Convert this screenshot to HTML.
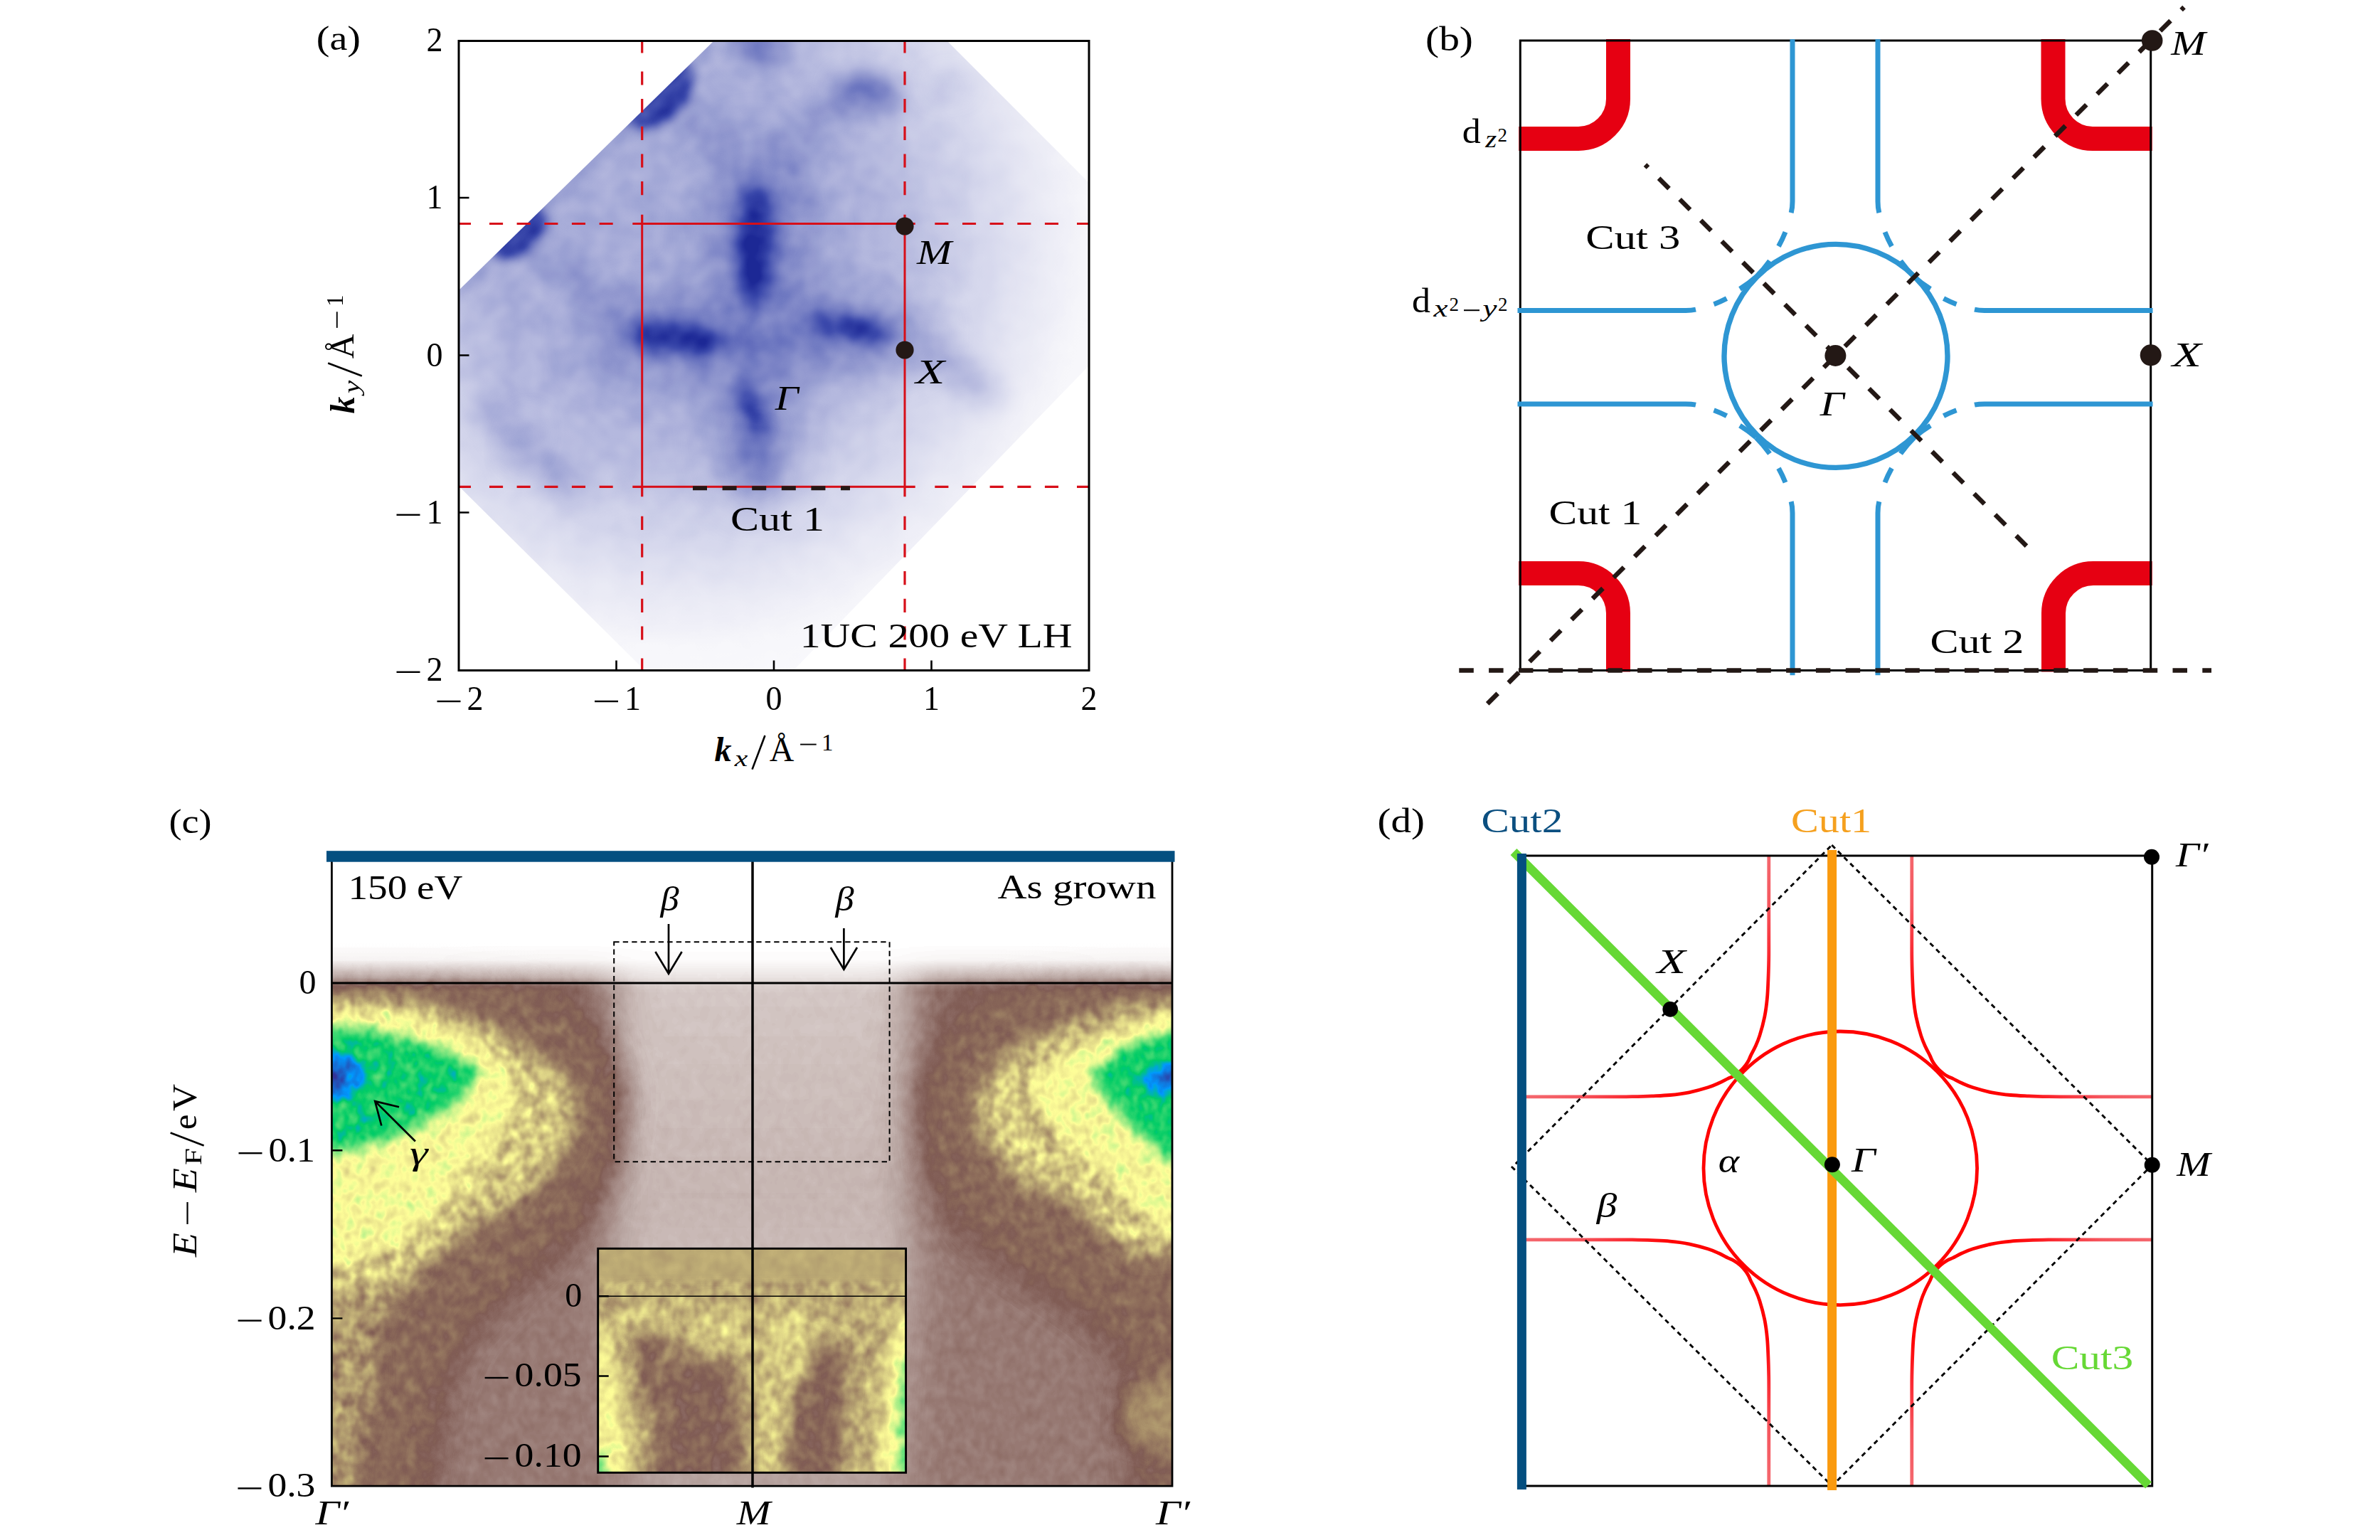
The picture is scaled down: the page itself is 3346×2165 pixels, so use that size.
<!DOCTYPE html>
<html><head><meta charset="utf-8"><title>figure</title>
<style>
html,body{margin:0;padding:0;background:#fff;}
svg{display:block;}
text{font-family:"Liberation Serif",serif;}
</style></head><body>
<svg width="3346" height="2165" viewBox="0 0 3346 2165">
<defs>
<filter id="ba5" filterUnits="userSpaceOnUse" x="540" y="-40" width="1100" height="1090" color-interpolation-filters="sRGB"><feGaussianBlur stdDeviation="5"/></filter>
<filter id="ba8" filterUnits="userSpaceOnUse" x="540" y="-40" width="1100" height="1090" color-interpolation-filters="sRGB"><feGaussianBlur stdDeviation="8"/></filter>
<filter id="ba12" filterUnits="userSpaceOnUse" x="540" y="-40" width="1100" height="1090" color-interpolation-filters="sRGB"><feGaussianBlur stdDeviation="12"/></filter>
<filter id="ba18" filterUnits="userSpaceOnUse" x="540" y="-40" width="1100" height="1090" color-interpolation-filters="sRGB"><feGaussianBlur stdDeviation="18"/></filter>
<filter id="ba25" filterUnits="userSpaceOnUse" x="540" y="-40" width="1100" height="1090" color-interpolation-filters="sRGB"><feGaussianBlur stdDeviation="25"/></filter>
<filter id="ba35" filterUnits="userSpaceOnUse" x="540" y="-40" width="1100" height="1090" color-interpolation-filters="sRGB"><feGaussianBlur stdDeviation="35"/></filter>
<filter id="cmapA" filterUnits="userSpaceOnUse" x="600" y="10" width="980" height="980" color-interpolation-filters="sRGB">
<feTurbulence type="fractalNoise" baseFrequency="0.03 0.03" numOctaves="2" seed="11" result="n0"/>
<feColorMatrix in="n0" type="matrix" values="1 0 0 0 0  1 0 0 0 0  1 0 0 0 0  0 0 0 0 1" result="n1"/>
<feComposite in="SourceGraphic" in2="n1" operator="arithmetic" k1="0.3" k2="0.85" k3="0" k4="0" result="m"/>
<feComponentTransfer in="m"><feFuncR type="table" tableValues="1.000 0.983 0.967 0.950 0.933 0.916 0.899 0.882 0.865 0.848 0.831 0.810 0.790 0.769 0.748 0.727 0.706 0.682 0.658 0.633 0.609 0.585 0.561 0.535 0.508 0.482 0.456 0.430 0.404 0.376 0.348 0.320 0.292 0.263 0.235 0.214 0.193 0.173 0.152 0.131 0.110"/><feFuncG type="table" tableValues="1.000 0.983 0.967 0.950 0.933 0.918 0.902 0.886 0.871 0.855 0.839 0.820 0.800 0.780 0.761 0.741 0.722 0.699 0.677 0.655 0.633 0.610 0.588 0.564 0.540 0.516 0.492 0.467 0.443 0.418 0.392 0.367 0.341 0.316 0.290 0.268 0.246 0.224 0.201 0.179 0.157"/><feFuncB type="table" tableValues="1.000 0.992 0.984 0.976 0.969 0.961 0.954 0.947 0.940 0.933 0.925 0.916 0.907 0.898 0.889 0.880 0.871 0.860 0.850 0.839 0.829 0.818 0.808 0.797 0.787 0.776 0.766 0.756 0.745 0.733 0.722 0.710 0.698 0.686 0.675 0.660 0.646 0.631 0.617 0.603 0.588"/></feComponentTransfer>
</filter>
<clipPath id="clipA"><path d="M645,408 L1003,58 L1332,58 L1531,257 L1531,514 L1116,942 L906,942 L645,683.5 Z"/></clipPath>
<radialGradient id="baseA" gradientUnits="userSpaceOnUse" cx="950" cy="330" r="680"><stop offset="0" stop-color="rgb(117,117,117)"/><stop offset="0.37" stop-color="rgb(112,112,112)"/><stop offset="0.47" stop-color="rgb(97,97,97)"/><stop offset="0.66" stop-color="rgb(56,56,56)"/><stop offset="0.735" stop-color="rgb(36,36,36)"/><stop offset="0.85" stop-color="rgb(13,13,13)"/><stop offset="1" stop-color="rgb(4,4,4)"/></radialGradient>
<filter id="bl6" filterUnits="userSpaceOnUse" x="300" y="1100" width="1520" height="1100" color-interpolation-filters="sRGB"><feGaussianBlur stdDeviation="6"/></filter>
<filter id="bl10" filterUnits="userSpaceOnUse" x="300" y="1100" width="1520" height="1100" color-interpolation-filters="sRGB"><feGaussianBlur stdDeviation="10"/></filter>
<filter id="bl14" filterUnits="userSpaceOnUse" x="300" y="1100" width="1520" height="1100" color-interpolation-filters="sRGB"><feGaussianBlur stdDeviation="14"/></filter>
<filter id="bl20" filterUnits="userSpaceOnUse" x="300" y="1100" width="1520" height="1100" color-interpolation-filters="sRGB"><feGaussianBlur stdDeviation="20"/></filter>
<filter id="bl30" filterUnits="userSpaceOnUse" x="300" y="1100" width="1520" height="1100" color-interpolation-filters="sRGB"><feGaussianBlur stdDeviation="30"/></filter>
<filter id="bl45" filterUnits="userSpaceOnUse" x="300" y="1100" width="1520" height="1100" color-interpolation-filters="sRGB"><feGaussianBlur stdDeviation="45"/></filter>
<filter id="spTan" filterUnits="userSpaceOnUse" x="300" y="1100" width="1520" height="1100" color-interpolation-filters="sRGB"><feGaussianBlur in="SourceAlpha" stdDeviation="12" result="a"/><feTurbulence type="fractalNoise" baseFrequency="0.06 0.05" numOctaves="2" seed="5" result="t"/><feColorMatrix in="t" type="matrix" values="0.26 0 0 0 0.285  0.26 0 0 0 0.285  0.26 0 0 0 0.285  0 0 0 0 1" result="tg"/><feComposite in="tg" in2="a" operator="in"/></filter>
<filter id="spYel" filterUnits="userSpaceOnUse" x="300" y="1100" width="1520" height="1100" color-interpolation-filters="sRGB"><feGaussianBlur in="SourceAlpha" stdDeviation="9" result="a"/><feTurbulence type="fractalNoise" baseFrequency="0.06 0.05" numOctaves="2" seed="5" result="t"/><feColorMatrix in="t" type="matrix" values="0.13 0 0 0 0.430  0.13 0 0 0 0.430  0.13 0 0 0 0.430  0 0 0 0 1" result="tg"/><feComposite in="tg" in2="a" operator="in"/></filter>
<filter id="spGrn" filterUnits="userSpaceOnUse" x="300" y="1100" width="1520" height="1100" color-interpolation-filters="sRGB"><feGaussianBlur in="SourceAlpha" stdDeviation="9" result="a"/><feTurbulence type="fractalNoise" baseFrequency="0.06 0.05" numOctaves="2" seed="5" result="t"/><feColorMatrix in="t" type="matrix" values="0.1 0 0 0 0.685  0.1 0 0 0 0.685  0.1 0 0 0 0.685  0 0 0 0 1" result="tg"/><feComposite in="tg" in2="a" operator="in"/></filter>
<filter id="spRing" filterUnits="userSpaceOnUse" x="300" y="1100" width="1520" height="1100" color-interpolation-filters="sRGB"><feGaussianBlur in="SourceAlpha" stdDeviation="20" result="a"/><feTurbulence type="fractalNoise" baseFrequency="0.06 0.05" numOctaves="2" seed="5" result="t"/><feColorMatrix in="t" type="matrix" values="0.06 0 0 0 0.242  0.06 0 0 0 0.242  0.06 0 0 0 0.242  0 0 0 0 1" result="tg"/><feComposite in="tg" in2="a" operator="in"/></filter>
<filter id="spLow" filterUnits="userSpaceOnUse" x="300" y="1100" width="1520" height="1100" color-interpolation-filters="sRGB"><feGaussianBlur in="SourceAlpha" stdDeviation="12" result="a"/><feTurbulence type="fractalNoise" baseFrequency="0.06 0.05" numOctaves="2" seed="5" result="t"/><feColorMatrix in="t" type="matrix" values="0.23 0 0 0 0.230  0.23 0 0 0 0.230  0.23 0 0 0 0.230  0 0 0 0 1" result="tg"/><feComposite in="tg" in2="a" operator="in"/></filter>
<filter id="spI1" filterUnits="userSpaceOnUse" x="300" y="1100" width="1520" height="1100" color-interpolation-filters="sRGB"><feGaussianBlur in="SourceAlpha" stdDeviation="3" result="a"/><feTurbulence type="fractalNoise" baseFrequency="0.06 0.05" numOctaves="2" seed="9" result="t"/><feColorMatrix in="t" type="matrix" values="0.2 0 0 0 0.270  0.2 0 0 0 0.270  0.2 0 0 0 0.270  0 0 0 0 1" result="tg"/><feComposite in="tg" in2="a" operator="in"/></filter>
<filter id="spI2" filterUnits="userSpaceOnUse" x="300" y="1100" width="1520" height="1100" color-interpolation-filters="sRGB"><feGaussianBlur in="SourceAlpha" stdDeviation="12" result="a"/><feTurbulence type="fractalNoise" baseFrequency="0.06 0.05" numOctaves="2" seed="9" result="t"/><feColorMatrix in="t" type="matrix" values="0.16 0 0 0 0.410  0.16 0 0 0 0.410  0.16 0 0 0 0.410  0 0 0 0 1" result="tg"/><feComposite in="tg" in2="a" operator="in"/></filter>
<filter id="spI3" filterUnits="userSpaceOnUse" x="300" y="1100" width="1520" height="1100" color-interpolation-filters="sRGB"><feGaussianBlur in="SourceAlpha" stdDeviation="12" result="a"/><feTurbulence type="fractalNoise" baseFrequency="0.06 0.05" numOctaves="2" seed="9" result="t"/><feColorMatrix in="t" type="matrix" values="0.1 0 0 0 0.210  0.1 0 0 0 0.210  0.1 0 0 0 0.210  0 0 0 0 1" result="tg"/><feComposite in="tg" in2="a" operator="in"/></filter>
<filter id="spI4" filterUnits="userSpaceOnUse" x="300" y="1100" width="1520" height="1100" color-interpolation-filters="sRGB"><feGaussianBlur in="SourceAlpha" stdDeviation="14" result="a"/><feTurbulence type="fractalNoise" baseFrequency="0.06 0.05" numOctaves="2" seed="9" result="t"/><feColorMatrix in="t" type="matrix" values="0.2 0 0 0 0.330  0.2 0 0 0 0.330  0.2 0 0 0 0.330  0 0 0 0 1" result="tg"/><feComposite in="tg" in2="a" operator="in"/></filter>
<filter id="spI5" filterUnits="userSpaceOnUse" x="300" y="1100" width="1520" height="1100" color-interpolation-filters="sRGB"><feGaussianBlur in="SourceAlpha" stdDeviation="10" result="a"/><feTurbulence type="fractalNoise" baseFrequency="0.06 0.05" numOctaves="2" seed="9" result="t"/><feColorMatrix in="t" type="matrix" values="0.2 0 0 0 0.560  0.2 0 0 0 0.560  0.2 0 0 0 0.560  0 0 0 0 1" result="tg"/><feComposite in="tg" in2="a" operator="in"/></filter>
<filter id="cmapC" filterUnits="userSpaceOnUse" x="420" y="1160" width="1280" height="980" color-interpolation-filters="sRGB">
<feTurbulence type="fractalNoise" baseFrequency="0.07 0.055" numOctaves="2" seed="7" result="n0"/>
<feColorMatrix in="n0" type="matrix" values="1 0 0 0 0  1 0 0 0 0  1 0 0 0 0  0 0 0 0 1" result="n1"/>
<feComposite in="SourceGraphic" in2="n1" operator="arithmetic" k1="0.24" k2="0.88" k3="0" k4="0" result="m"/>
<feComponentTransfer in="m"><feFuncR type="table" tableValues="1.000 0.950 0.900 0.850 0.800 0.750 0.700 0.650 0.600 0.550 0.500 0.550 0.600 0.650 0.700 0.750 0.800 0.850 0.900 0.950 1.000 0.900 0.800 0.700 0.600 0.500 0.400 0.300 0.200 0.100 0.000 0.000 0.000 0.000 0.000 0.033 0.067 0.100 0.133 0.167 0.200"/><feFuncG type="table" tableValues="1.000 0.936 0.872 0.808 0.744 0.680 0.616 0.552 0.488 0.424 0.360 0.424 0.488 0.552 0.616 0.680 0.744 0.808 0.872 0.936 1.000 0.980 0.960 0.940 0.920 0.900 0.880 0.860 0.840 0.820 0.800 0.750 0.700 0.650 0.600 0.533 0.467 0.400 0.333 0.267 0.200"/><feFuncB type="table" tableValues="1.000 0.933 0.866 0.799 0.732 0.665 0.598 0.531 0.464 0.397 0.330 0.357 0.384 0.411 0.438 0.465 0.492 0.519 0.546 0.573 0.600 0.580 0.560 0.540 0.520 0.500 0.480 0.460 0.440 0.420 0.400 0.550 0.700 0.850 1.000 0.933 0.867 0.800 0.733 0.667 0.600"/></feComponentTransfer>
</filter>
<clipPath id="clipC"><rect x="466" y="1211" width="1183" height="878"/></clipPath>
<linearGradient id="fermi" gradientUnits="userSpaceOnUse" x1="0" y1="1325" x2="0" y2="1395"><stop offset="0" stop-color="#000" stop-opacity="1"/><stop offset="0.35" stop-color="#000" stop-opacity="0.93"/><stop offset="0.7" stop-color="#000" stop-opacity="0.5"/><stop offset="0.88" stop-color="#000" stop-opacity="0.08"/><stop offset="1" stop-color="#000" stop-opacity="0"/></linearGradient>
<linearGradient id="cband" gradientUnits="userSpaceOnUse" x1="0" y1="1380" x2="0" y2="2090"><stop offset="0" stop-color="#000" stop-opacity="0.64"/><stop offset="0.5" stop-color="#000" stop-opacity="0.5"/><stop offset="1" stop-color="#000" stop-opacity="0.3"/></linearGradient>
<clipPath id="clipI"><rect x="840.7" y="1755.3" width="432.89999999999986" height="315.0000000000002"/></clipPath>
<filter id="cmapI" filterUnits="userSpaceOnUse" x="800" y="1720" width="520" height="400" color-interpolation-filters="sRGB">
<feTurbulence type="fractalNoise" baseFrequency="0.05 0.045" numOctaves="2" seed="3" result="n0"/>
<feColorMatrix in="n0" type="matrix" values="1 0 0 0 0  1 0 0 0 0  1 0 0 0 0  0 0 0 0 1" result="n1"/>
<feComposite in="SourceGraphic" in2="n1" operator="arithmetic" k1="0.16" k2="0.92" k3="0" k4="0" result="m"/>
<feComponentTransfer in="m"><feFuncR type="table" tableValues="1.000 0.950 0.900 0.850 0.800 0.750 0.700 0.650 0.600 0.550 0.500 0.550 0.600 0.650 0.700 0.750 0.800 0.850 0.900 0.950 1.000 0.900 0.800 0.700 0.600 0.500 0.400 0.300 0.200 0.100 0.000 0.000 0.000 0.000 0.000 0.033 0.067 0.100 0.133 0.167 0.200"/><feFuncG type="table" tableValues="1.000 0.936 0.872 0.808 0.744 0.680 0.616 0.552 0.488 0.424 0.360 0.424 0.488 0.552 0.616 0.680 0.744 0.808 0.872 0.936 1.000 0.980 0.960 0.940 0.920 0.900 0.880 0.860 0.840 0.820 0.800 0.750 0.700 0.650 0.600 0.533 0.467 0.400 0.333 0.267 0.200"/><feFuncB type="table" tableValues="1.000 0.933 0.866 0.799 0.732 0.665 0.598 0.531 0.464 0.397 0.330 0.357 0.384 0.411 0.438 0.465 0.492 0.519 0.546 0.573 0.600 0.580 0.560 0.540 0.520 0.500 0.480 0.460 0.440 0.420 0.400 0.550 0.700 0.850 1.000 0.933 0.867 0.800 0.733 0.667 0.600"/></feComponentTransfer>
</filter>
<radialGradient id="rg" gradientUnits="userSpaceOnUse" cx="2587.3" cy="1642.3" r="460"><stop offset="0" stop-color="#FF0000"/><stop offset="0.56" stop-color="#FF0000"/><stop offset="0.69" stop-color="#FA2A32"/><stop offset="0.83" stop-color="#F5565E"/><stop offset="1" stop-color="#F4696F"/></radialGradient>
<radialGradient id="rg0" gradientUnits="userSpaceOnUse" cx="0" cy="0" r="460"><stop offset="0" stop-color="#FF0000"/><stop offset="0.56" stop-color="#FF0000"/><stop offset="0.69" stop-color="#FA2A32"/><stop offset="0.83" stop-color="#F5565E"/><stop offset="1" stop-color="#F4696F"/></radialGradient>
</defs>
<rect width="3346" height="2165" fill="#fff"/>
<g clip-path="url(#clipA)"><g filter="url(#cmapA)"><rect x="560" y="0" width="1060" height="1030" fill="url(#baseA)"/><g filter="url(#ba35)" fill="rgb(173,173,173)" opacity="0.92"><ellipse cx="1066" cy="340" rx="64" ry="145"/><ellipse cx="950" cy="476" rx="125" ry="48"/><ellipse cx="1200" cy="468" rx="105" ry="45"/><ellipse cx="1062" cy="610" rx="45" ry="95"/><ellipse cx="1070" cy="470" rx="85" ry="75"/></g><g filter="url(#ba18)" stroke="rgb(158,158,158)" stroke-width="40" fill="none" opacity="0.6"><path d="M945,140 L1050,235"/><path d="M1195,140 L1110,210 L1105,330"/><path d="M745,345 L900,455"/><path d="M690,560 Q730,640 820,690"/><path d="M1290,480 L1400,560"/></g><g filter="url(#ba8)" fill="rgb(255,255,255)"><ellipse cx="926" cy="132" rx="58" ry="36" transform="rotate(-44.5 926 132)"/><ellipse cx="729" cy="326" rx="46" ry="27" transform="rotate(-44.5 729 326)"/></g><g filter="url(#ba8)" stroke="rgb(153,153,153)" stroke-width="14" fill="none" opacity="0.6"><path d="M645,412 L1003,62"/></g><g filter="url(#ba18)" fill="rgb(199,199,199)"><ellipse cx="1220" cy="132" rx="46" ry="22" transform="rotate(8 1220 132)"/><ellipse cx="1068" cy="62" rx="36" ry="22"/></g><g filter="url(#ba18)" fill="rgb(115,115,115)" opacity="0.7"><ellipse cx="1336" cy="120" rx="28" ry="14"/><ellipse cx="735" cy="620" rx="16" ry="40" transform="rotate(20 735 620)"/></g><g filter="url(#ba12)" fill="rgb(255,255,255)"><ellipse cx="1062" cy="345" rx="23" ry="88"/><ellipse cx="950" cy="475" rx="72" ry="19" transform="rotate(5 950 475)"/><ellipse cx="1198" cy="464" rx="62" ry="15" transform="rotate(12 1198 464)"/><ellipse cx="1057" cy="582" rx="13" ry="42" transform="rotate(-14 1057 582)"/></g><g filter="url(#ba18)" fill="rgb(184,184,184)" opacity="0.85"><ellipse cx="1064" cy="645" rx="17" ry="45"/></g></g></g>
<g id="pa"><g stroke="#D70F19" fill="none" stroke-width="3.2"><path d="M902.7,57.5 V314.5 M902.7,942.5 V684.3 M1272.0,57.5 V314.5 M1272.0,942.5 V684.3 M645.0,314.5 H902.7 M1531.0,314.5 H1272.0 M645.0,684.3 H902.7 M1531.0,684.3 H1272.0" stroke-dasharray="17 26 19.1 19.5 19.1 19.6 19.1 19.5 19.1 19.6 19.1 27.6 40"/><rect x="902.7" y="314.5" width="369.29999999999995" height="369.79999999999995" stroke-width="3"/></g><path d="M974,686.3 H1195" stroke="#231815" stroke-width="6" stroke-dasharray="20 21.6" fill="none"/><g stroke="#000" fill="none"><rect x="645.0" y="57.5" width="886.0" height="885.0" stroke-width="3"/><path d="M645.0,278 h14.5 M645.0,499.5 h14.5 M645.0,720.5 h14.5 M866.5,942.5 v-14 M1088,942.5 v-14 M1309.5,942.5 v-14" stroke-width="2.6"/></g><g fill="#231815"><circle cx="1272" cy="318" r="12.6"/><circle cx="1272" cy="492" r="12.6"/></g><text x="599.5" y="72.3" font-size="48" textLength="23" lengthAdjust="spacingAndGlyphs" >2</text><text x="599.5" y="293.3" font-size="48" textLength="23" lengthAdjust="spacingAndGlyphs" >1</text><text x="599.5" y="514.8" font-size="48" textLength="23" lengthAdjust="spacingAndGlyphs" >0</text><text x="599.5" y="735.8" font-size="48" textLength="23" lengthAdjust="spacingAndGlyphs" >1</text><rect x="557.5" y="722.6" width="33" height="2.4" fill="#000"/><text x="599.5" y="956.8" font-size="48" textLength="23" lengthAdjust="spacingAndGlyphs" >2</text><rect x="557.5" y="943.6" width="33" height="2.4" fill="#000"/><text x="656.5" y="998" font-size="48" textLength="23" lengthAdjust="spacingAndGlyphs" >2</text><rect x="614.5" y="984.8" width="33" height="2.4" fill="#000"/><text x="878.0" y="998" font-size="48" textLength="23" lengthAdjust="spacingAndGlyphs" >1</text><rect x="836.0" y="984.8" width="33" height="2.4" fill="#000"/><text x="1076.5" y="998" font-size="48" textLength="23" lengthAdjust="spacingAndGlyphs" >0</text><text x="1298.0" y="998" font-size="48" textLength="23" lengthAdjust="spacingAndGlyphs" >1</text><text x="1519.5" y="998" font-size="48" textLength="23" lengthAdjust="spacingAndGlyphs" >2</text><text x="444.7" y="69.9" font-size="48" textLength="62.3" lengthAdjust="spacingAndGlyphs" >(a)</text><text x="1288.9" y="371" font-size="48" font-style="italic" textLength="49.0" lengthAdjust="spacingAndGlyphs" >M</text><text x="1287.2" y="538.7" font-size="48" font-style="italic" textLength="41.0" lengthAdjust="spacingAndGlyphs" >X</text><text x="1089.7" y="575.8" font-size="48" font-style="italic" textLength="32.9" lengthAdjust="spacingAndGlyphs" >Γ</text><text x="1027" y="745.7" font-size="48" textLength="132" lengthAdjust="spacingAndGlyphs" >Cut 1</text><text x="1124.7" y="910" font-size="48" textLength="382.9" lengthAdjust="spacingAndGlyphs" >1UC 200 eV LH</text><g transform="translate(1004.5,1070.4)"><text x="0" y="0" font-size="48" font-style="italic" font-weight="bold">k</text><text x="28.2" y="7" font-size="31" font-style="italic" textLength="18.5" lengthAdjust="spacingAndGlyphs">x</text><path d="M53,11.2 L71,-36.4" stroke="#000" stroke-width="2.6" fill="none"/><text x="77.2" y="-0.4" font-size="48" textLength="34.6" lengthAdjust="spacingAndGlyphs">Å</text><rect x="120.6" y="-24.8" width="22.6" height="1.9" fill="#000"/><text x="150.5" y="-15.3" font-size="33">1</text></g><g transform="translate(497.6,581.5) rotate(-90)"><text x="0" y="0" font-size="48" font-style="italic" font-weight="bold">k</text><text x="28.2" y="7" font-size="31" font-style="italic" textLength="18.5" lengthAdjust="spacingAndGlyphs">y</text><path d="M53,11.2 L71,-36.4" stroke="#000" stroke-width="2.6" fill="none"/><text x="77.2" y="-0.4" font-size="48" textLength="34.6" lengthAdjust="spacingAndGlyphs">Å</text><rect x="120.6" y="-24.8" width="22.6" height="1.9" fill="#000"/><text x="150.5" y="-15.3" font-size="33">1</text></g></g>
<g id="pb"><g fill="none" stroke="#E60012" stroke-width="34"><path d="M2135.3,195 H2219 A56 56 0 0 0 2275,139 V55.0"/><path d="M3025.7,195 H2942 A56 56 0 0 1 2886.5,139 V55.0"/><path d="M2135.3,806 H2219 A56 56 0 0 1 2275,862 V944.5"/><path d="M3025.7,806 H2943 A56 56 0 0 0 2887,862 V944.5"/></g><rect x="2137.3" y="57.0" width="886.3999999999996" height="885.5" fill="none" stroke="#000" stroke-width="3"/><g fill="none" stroke="#2E96D3" stroke-width="7"><g transform="translate(2580.0,502.2) scale(1,1)"><path d="M-60,-447 V-219 Q-60,-210 -61.8,-203"/><path d="M-70,-176 Q-74,-166 -79.5,-156"/><path d="M-92,-135.5 Q-101,-123 -111,-113"/><path d="M-111,-113 Q-121,-104 -134,-96"/><path d="M-152.5,-82.5 Q-161,-78 -170.5,-74.5"/><path d="M-446.5,-65.7 H-210 Q-202,-65.7 -196,-67"/></g><g transform="translate(2580.0,502.2) scale(-1,1)"><path d="M-60,-447 V-219 Q-60,-210 -61.8,-203"/><path d="M-70,-176 Q-74,-166 -79.5,-156"/><path d="M-92,-135.5 Q-101,-123 -111,-113"/><path d="M-111,-113 Q-121,-104 -134,-96"/><path d="M-152.5,-82.5 Q-161,-78 -170.5,-74.5"/><path d="M-446.5,-65.7 H-210 Q-202,-65.7 -196,-67"/></g><g transform="translate(2580.0,502.2) scale(1,-1)"><path d="M-60,-447 V-219 Q-60,-210 -61.8,-203"/><path d="M-70,-176 Q-74,-166 -79.5,-156"/><path d="M-92,-135.5 Q-101,-123 -111,-113"/><path d="M-111,-113 Q-121,-104 -134,-96"/><path d="M-152.5,-82.5 Q-161,-78 -170.5,-74.5"/><path d="M-446.5,-65.7 H-210 Q-202,-65.7 -196,-67"/></g><g transform="translate(2580.0,502.2) scale(-1,-1)"><path d="M-60,-447 V-219 Q-60,-210 -61.8,-203"/><path d="M-70,-176 Q-74,-166 -79.5,-156"/><path d="M-92,-135.5 Q-101,-123 -111,-113"/><path d="M-111,-113 Q-121,-104 -134,-96"/><path d="M-152.5,-82.5 Q-161,-78 -170.5,-74.5"/><path d="M-446.5,-65.7 H-210 Q-202,-65.7 -196,-67"/></g><circle cx="2581" cy="500.4" r="157" stroke-width="7.4"/></g><g fill="none" stroke="#231815" stroke-width="6.5" stroke-dasharray="20.5 21.3"><path d="M2051.3,942.5 H3109"/><path d="M2091.2,989.4 L3070.5,10.1"/><path d="M2849,767.6 L2313,231.6"/></g><g fill="#231815"><circle cx="2580.4" cy="500" r="15"/><circle cx="3025.7" cy="57" r="14.8"/><circle cx="3023.7" cy="499.3" r="15"/></g><text x="2004" y="70.9" font-size="48" textLength="67" lengthAdjust="spacingAndGlyphs" >(b)</text><text x="2229.3" y="350.2" font-size="48" textLength="132.9" lengthAdjust="spacingAndGlyphs" >Cut 3</text><text x="2177.5" y="736.8" font-size="48" textLength="130.7" lengthAdjust="spacingAndGlyphs" >Cut 1</text><text x="2713.4" y="917.6" font-size="48" textLength="132.0" lengthAdjust="spacingAndGlyphs" >Cut 2</text><text x="3052.3" y="76.8" font-size="48" font-style="italic" textLength="48.7" lengthAdjust="spacingAndGlyphs" >M</text><text x="3053.8" y="514.7" font-size="48" font-style="italic" textLength="41.2" lengthAdjust="spacingAndGlyphs" >X</text><text x="2558.8" y="583.6" font-size="48" font-style="italic" textLength="34.0" lengthAdjust="spacingAndGlyphs" >Γ</text><text x="2055.8" y="201" font-size="48" textLength="26" lengthAdjust="spacingAndGlyphs" >d</text><text x="2088.3" y="207" font-size="34" font-style="italic" textLength="16" lengthAdjust="spacingAndGlyphs" >z</text><text x="2105.5" y="198.6" font-size="27" >2</text><text x="1984.9" y="439.4" font-size="48" textLength="26" lengthAdjust="spacingAndGlyphs" >d</text><text x="2015.6" y="445" font-size="34" font-style="italic" textLength="20" lengthAdjust="spacingAndGlyphs" >x</text><text x="2037.5" y="437" font-size="27" >2</text><rect x="2058" y="435.2" width="22" height="2" fill="#000"/><text x="2084.5" y="445" font-size="34" font-style="italic" textLength="20" lengthAdjust="spacingAndGlyphs" >y</text><text x="2106" y="437" font-size="27" >2</text></g>
<g clip-path="url(#clipC)"><g filter="url(#cmapC)"><rect x="400" y="1150" width="1320" height="1000" fill="rgb(61,61,61)"/><g filter="url(#bl30)"><path d="M862,1300 L1280,1300 L1285,1760 L1260,2200 L890,2200 L858,1760 Z" fill="url(#cband)"/><path d="M852,1720 L1290,1720 L1420,1800 L1560,1900 L1600,2200 L600,2200 L640,1900 L760,1800 Z" fill="#000" opacity="0.14"/></g><g filter="url(#spRing)" fill="#fff"><path d="M360,1340 L600,1340 L740,1370 L840,1440 L880,1530 L868,1640 L810,1730 L730,1800 L660,1870 L620,1960 L605,2060 L590,2200 L360,2200 Z"/><path d="M1760,1340 L1560,1340 L1430,1370 L1335,1440 L1290,1530 L1302,1640 L1362,1730 L1440,1790 L1530,1850 L1585,1900 L1600,2000 L1610,2200 L1760,2200 Z"/></g><g filter="url(#spLow)" fill="#fff"><path d="M360,1780 L590,1780 L552,1826 L527,1878 L528,1950 L502,2026 L488,2200 L360,2200 Z"/></g><g filter="url(#spTan)" fill="#fff"><path d="M360,1396 L588,1406 L680,1440 L752,1480 L812,1537 L800,1612 L742,1680 L660,1728 L600,1776 L565,1812 L360,1820 Z"/><path d="M1760,1404 L1647,1406 L1583,1416 L1500,1441 L1416,1480 L1372,1537 L1376,1594 L1440,1668 L1496,1682 L1562,1740 L1602,1768 L1647,1762 L1760,1762 Z"/></g><g filter="url(#bl14)" fill="rgb(84,84,84)"><path d="M1760,1925 L1640,1930 L1580,1960 L1575,2020 L1640,2040 L1760,2040 Z"/></g><g filter="url(#spYel)" fill="#fff"><path d="M360,1414 L560,1422 L655,1452 L706,1492 L726,1537 L706,1594 L652,1655 L620,1704 L570,1742 L515,1764 L470,1784 L360,1790 Z"/><path d="M1760,1424 L1647,1426 L1588,1441 L1504,1475 L1446,1523 L1462,1560 L1526,1630 L1590,1688 L1647,1742 L1760,1742 Z"/></g><g filter="url(#spGrn)" fill="#fff"><path d="M360,1440 L520,1447 L612,1470 L676,1503 L644,1550 L574,1592 L502,1616 L360,1626 Z"/><path d="M1760,1446 L1647,1449 L1588,1470 L1532,1508 L1556,1547 L1598,1592 L1647,1632 L1760,1634 Z"/></g><g filter="url(#bl6)"><ellipse cx="462" cy="1513" rx="52" ry="34" fill="rgb(224,224,224)"/><ellipse cx="1652" cy="1518" rx="48" ry="24" fill="rgb(219,219,219)"/></g><g filter="url(#bl6)"><ellipse cx="462" cy="1514" rx="24" ry="16" fill="rgb(250,250,250)"/><ellipse cx="1652" cy="1514" rx="16" ry="12" fill="rgb(242,242,242)"/></g><rect x="400" y="1150" width="1320" height="250" fill="url(#fermi)"/></g></g>
<g clip-path="url(#clipI)"><g filter="url(#cmapI)"><rect x="780" y="1700" width="560" height="440" fill="rgb(94,94,94)"/><g filter="url(#spI1)" fill="#fff"><rect x="760" y="1800" width="600" height="360"/></g><g filter="url(#spI4)" fill="#fff"><rect x="975" y="1840" width="70" height="60"/><rect x="1075" y="1845" width="90" height="100"/><rect x="1064" y="1950" width="36" height="170"/><rect x="880" y="1830" width="60" height="40"/></g><g filter="url(#spI3)" fill="#fff"><path d="M955,1895 L1035,1925 L1050,2120 L905,2120 L925,1990 Z"/><path d="M1150,1880 L1190,1900 L1185,2000 L1172,2120 L1100,2120 L1115,1990 Z"/><path d="M890,1875 L940,1880 L935,1960 L905,1990 Z"/></g><g filter="url(#spI2)" fill="#fff"><path d="M780,1860 L852,1860 L872,1950 L895,2120 L780,2120 Z"/><path d="M1340,1835 L1262,1835 L1243,1930 L1225,2120 L1340,2120 Z"/></g><g filter="url(#spI5)" fill="#fff"><path d="M1340,1900 L1270,1905 L1262,2000 L1265,2120 L1340,2120 Z"/><path d="M780,2040 L850,2040 L860,2120 L780,2120 Z"/></g></g></g>
<g id="pc"><g stroke="#000" fill="none"><path d="M466.4,1209.5 V2089.2 H1648 V1209.5" stroke-width="2.8"/><path d="M466.4,1382 H1648" stroke-width="3"/><path d="M1058,1209.5 V2091.5" stroke-width="3.5"/><path d="M466.4,1617.3 h15 M466.4,1853.4 h15" stroke-width="2.4"/></g><rect x="459" y="1196.2" width="1192.5" height="15.5" fill="#044F80"/><rect x="863.2" y="1324.2" width="387.4" height="309" fill="none" stroke="#000" stroke-width="2" stroke-dasharray="7.4 5.1"/><path d="M940,1299 V1369 M921.4,1338 L940,1369 L958.6,1338" fill="none" stroke="#000" stroke-width="2.7" stroke-linejoin="miter"/><path d="M1186.4,1305 V1363 M1167.8000000000002,1332 L1186.4,1363 L1205.0,1332" fill="none" stroke="#000" stroke-width="2.7" stroke-linejoin="miter"/><path d="M583.9,1604.5 L527.2,1548.1 M561,1556.2 L527.2,1548.1 L536.3,1582.5" fill="none" stroke="#000" stroke-width="2.7"/><g stroke="#000" fill="none"><rect x="840.7" y="1755.3" width="432.89999999999986" height="315.0000000000002" stroke-width="2.9"/><path d="M840.7,1822.3 H1273.6" stroke-width="1.6"/><path d="M840.7,1822.3 h15 M840.7,1934.5 h15 M840.7,2047.5 h15" stroke-width="2.4"/></g><text x="420.5" y="1396.8" font-size="48" textLength="24.0" lengthAdjust="spacingAndGlyphs" >0</text><text x="377.5" y="1633.2" font-size="48" textLength="65.5" lengthAdjust="spacingAndGlyphs" >0.1</text><rect x="335.5" y="1620.0" width="33" height="2.4" fill="#000"/><text x="376.6" y="1868.6" font-size="48" textLength="67" lengthAdjust="spacingAndGlyphs" >0.2</text><rect x="334.6" y="1855.4" width="33" height="2.4" fill="#000"/><text x="376.4" y="2104.4" font-size="48" textLength="67" lengthAdjust="spacingAndGlyphs" >0.3</text><rect x="334.4" y="2091.2" width="33" height="2.4" fill="#000"/><text x="794.3" y="1836.9" font-size="48" textLength="24.0" lengthAdjust="spacingAndGlyphs" >0</text><text x="723.6" y="1949" font-size="48" textLength="94" lengthAdjust="spacingAndGlyphs" >0.05</text><rect x="681.6" y="1935.8" width="33" height="2.4" fill="#000"/><text x="723.6" y="2062.2" font-size="48" textLength="94" lengthAdjust="spacingAndGlyphs" >0.10</text><rect x="681.6" y="2049.0" width="33" height="2.4" fill="#000"/><text x="237.4" y="1170.5" font-size="48" textLength="60.1" lengthAdjust="spacingAndGlyphs" >(c)</text><text x="489.4" y="1264" font-size="48" textLength="161.1" lengthAdjust="spacingAndGlyphs" >150 eV</text><text x="1402.5" y="1263.4" font-size="48" textLength="222.9" lengthAdjust="spacingAndGlyphs" >As grown</text><text x="928.4" y="1280.3" font-size="48" font-style="italic" textLength="26.0" lengthAdjust="spacingAndGlyphs" >β</text><text x="1174.5" y="1280.3" font-size="48" font-style="italic" textLength="26.0" lengthAdjust="spacingAndGlyphs" >β</text><text x="576" y="1636.5" font-size="48" font-style="italic" textLength="25.5" lengthAdjust="spacingAndGlyphs" >γ</text><text x="443.4" y="2143.2" font-size="48" font-style="italic" textLength="46.6" lengthAdjust="spacingAndGlyphs" >Γ′</text><text x="1035.8" y="2143.4" font-size="48" font-style="italic" textLength="47.7" lengthAdjust="spacingAndGlyphs" >M</text><text x="1625" y="2143.2" font-size="48" font-style="italic" textLength="47.7" lengthAdjust="spacingAndGlyphs" >Γ′</text><g transform="translate(275.6,1767) rotate(-90)"><text x="0" y="0" font-size="48" font-style="italic" textLength="34" lengthAdjust="spacingAndGlyphs">E</text><rect x="46" y="-13.2" width="31" height="2.2" fill="#000"/><text x="91" y="0" font-size="48" font-style="italic" textLength="34" lengthAdjust="spacingAndGlyphs">E</text><text x="129" y="7.5" font-size="34" textLength="24" lengthAdjust="spacingAndGlyphs">F</text><path d="M156.5,11 L174.5,-36" stroke="#000" stroke-width="2.6" fill="none"/><text x="179" y="0" font-size="48">e</text><text x="205" y="0" font-size="48" textLength="38" lengthAdjust="spacingAndGlyphs">V</text></g></g>
<g id="pd"><clipPath id="dclip"><rect x="2139.8" y="1203.0" width="885.8999999999996" height="886.0"/></clipPath><g fill="none" stroke="url(#rg)" stroke-width="4.8" clip-path="url(#dclip)"><path transform="translate(2587.3,1642.3) scale(1,1)" d="M-100.5,-452.0 C-100.5,-431.7 -100.5,-356.6 -100.5,-330.0 C-100.5,-303.4 -100.4,-303.5 -100.6,-292.7 C-100.8,-281.9 -101.0,-273.9 -101.4,-265.0 C-101.8,-256.1 -102.0,-248.2 -102.8,-239.5 C-103.6,-230.8 -104.7,-221.7 -106.5,-212.8 C-108.3,-203.9 -111.3,-193.2 -113.5,-186.2 C-115.7,-179.2 -117.4,-175.7 -119.5,-171.0 C-121.6,-166.3 -124.4,-161.5 -126.0,-158.2 C-127.6,-154.9 -127.8,-153.5 -129.0,-151.3 C-130.2,-149.1 -131.4,-147.1 -133.0,-145.0 C-134.6,-142.9 -136.5,-140.5 -138.5,-138.5 C-140.5,-136.5 -142.9,-134.6 -145.0,-133.0 C-147.1,-131.4 -149.1,-130.2 -151.3,-129.0 C-153.5,-127.8 -154.9,-127.6 -158.2,-126.0 C-161.5,-124.4 -166.3,-121.6 -171.0,-119.5 C-175.7,-117.4 -179.2,-115.7 -186.2,-113.5 C-193.2,-111.3 -203.9,-108.3 -212.8,-106.5 C-221.7,-104.7 -230.8,-103.6 -239.5,-102.8 C-248.2,-102.0 -256.1,-101.8 -265.0,-101.4 C-273.9,-101.0 -281.9,-100.8 -292.7,-100.6 C-303.5,-100.4 -303.4,-100.5 -330.0,-100.5 C-356.6,-100.5 -431.7,-100.5 -452.0,-100.5" stroke="url(#rg0)"/><path transform="translate(2587.3,1642.3) scale(-1,1)" d="M-100.5,-452.0 C-100.5,-431.7 -100.5,-356.6 -100.5,-330.0 C-100.5,-303.4 -100.4,-303.5 -100.6,-292.7 C-100.8,-281.9 -101.0,-273.9 -101.4,-265.0 C-101.8,-256.1 -102.0,-248.2 -102.8,-239.5 C-103.6,-230.8 -104.7,-221.7 -106.5,-212.8 C-108.3,-203.9 -111.3,-193.2 -113.5,-186.2 C-115.7,-179.2 -117.4,-175.7 -119.5,-171.0 C-121.6,-166.3 -124.4,-161.5 -126.0,-158.2 C-127.6,-154.9 -127.8,-153.5 -129.0,-151.3 C-130.2,-149.1 -131.4,-147.1 -133.0,-145.0 C-134.6,-142.9 -136.5,-140.5 -138.5,-138.5 C-140.5,-136.5 -142.9,-134.6 -145.0,-133.0 C-147.1,-131.4 -149.1,-130.2 -151.3,-129.0 C-153.5,-127.8 -154.9,-127.6 -158.2,-126.0 C-161.5,-124.4 -166.3,-121.6 -171.0,-119.5 C-175.7,-117.4 -179.2,-115.7 -186.2,-113.5 C-193.2,-111.3 -203.9,-108.3 -212.8,-106.5 C-221.7,-104.7 -230.8,-103.6 -239.5,-102.8 C-248.2,-102.0 -256.1,-101.8 -265.0,-101.4 C-273.9,-101.0 -281.9,-100.8 -292.7,-100.6 C-303.5,-100.4 -303.4,-100.5 -330.0,-100.5 C-356.6,-100.5 -431.7,-100.5 -452.0,-100.5" stroke="url(#rg0)"/><path transform="translate(2587.3,1642.3) scale(1,-1)" d="M-100.5,-452.0 C-100.5,-431.7 -100.5,-356.6 -100.5,-330.0 C-100.5,-303.4 -100.4,-303.5 -100.6,-292.7 C-100.8,-281.9 -101.0,-273.9 -101.4,-265.0 C-101.8,-256.1 -102.0,-248.2 -102.8,-239.5 C-103.6,-230.8 -104.7,-221.7 -106.5,-212.8 C-108.3,-203.9 -111.3,-193.2 -113.5,-186.2 C-115.7,-179.2 -117.4,-175.7 -119.5,-171.0 C-121.6,-166.3 -124.4,-161.5 -126.0,-158.2 C-127.6,-154.9 -127.8,-153.5 -129.0,-151.3 C-130.2,-149.1 -131.4,-147.1 -133.0,-145.0 C-134.6,-142.9 -136.5,-140.5 -138.5,-138.5 C-140.5,-136.5 -142.9,-134.6 -145.0,-133.0 C-147.1,-131.4 -149.1,-130.2 -151.3,-129.0 C-153.5,-127.8 -154.9,-127.6 -158.2,-126.0 C-161.5,-124.4 -166.3,-121.6 -171.0,-119.5 C-175.7,-117.4 -179.2,-115.7 -186.2,-113.5 C-193.2,-111.3 -203.9,-108.3 -212.8,-106.5 C-221.7,-104.7 -230.8,-103.6 -239.5,-102.8 C-248.2,-102.0 -256.1,-101.8 -265.0,-101.4 C-273.9,-101.0 -281.9,-100.8 -292.7,-100.6 C-303.5,-100.4 -303.4,-100.5 -330.0,-100.5 C-356.6,-100.5 -431.7,-100.5 -452.0,-100.5" stroke="url(#rg0)"/><path transform="translate(2587.3,1642.3) scale(-1,-1)" d="M-100.5,-452.0 C-100.5,-431.7 -100.5,-356.6 -100.5,-330.0 C-100.5,-303.4 -100.4,-303.5 -100.6,-292.7 C-100.8,-281.9 -101.0,-273.9 -101.4,-265.0 C-101.8,-256.1 -102.0,-248.2 -102.8,-239.5 C-103.6,-230.8 -104.7,-221.7 -106.5,-212.8 C-108.3,-203.9 -111.3,-193.2 -113.5,-186.2 C-115.7,-179.2 -117.4,-175.7 -119.5,-171.0 C-121.6,-166.3 -124.4,-161.5 -126.0,-158.2 C-127.6,-154.9 -127.8,-153.5 -129.0,-151.3 C-130.2,-149.1 -131.4,-147.1 -133.0,-145.0 C-134.6,-142.9 -136.5,-140.5 -138.5,-138.5 C-140.5,-136.5 -142.9,-134.6 -145.0,-133.0 C-147.1,-131.4 -149.1,-130.2 -151.3,-129.0 C-153.5,-127.8 -154.9,-127.6 -158.2,-126.0 C-161.5,-124.4 -166.3,-121.6 -171.0,-119.5 C-175.7,-117.4 -179.2,-115.7 -186.2,-113.5 C-193.2,-111.3 -203.9,-108.3 -212.8,-106.5 C-221.7,-104.7 -230.8,-103.6 -239.5,-102.8 C-248.2,-102.0 -256.1,-101.8 -265.0,-101.4 C-273.9,-101.0 -281.9,-100.8 -292.7,-100.6 C-303.5,-100.4 -303.4,-100.5 -330.0,-100.5 C-356.6,-100.5 -431.7,-100.5 -452.0,-100.5" stroke="url(#rg0)"/><circle cx="2587.3" cy="1642.3" r="192.3"/></g><rect x="2139.8" y="1203.0" width="885.8999999999996" height="886.0" fill="none" stroke="#000" stroke-width="3"/><path d="M2575.3,1188 L3025.7,1637.7 L2575.6,2089 L2126,1641 Z" fill="none" stroke="#000" stroke-width="2.9" stroke-dasharray="6.6 5.6"/><path d="M2575.6,1195 V2095" stroke="#FA9A0E" stroke-width="13" fill="none"/><path d="M2128,1197.5 L3020.5,2088" stroke="#66D835" stroke-width="12.5" fill="none"/><path d="M2139.4,1200 V2094" stroke="#044F80" stroke-width="13" fill="none"/><g fill="#000"><circle cx="2575.9" cy="1637.3" r="11"/><circle cx="2348.2" cy="1418.9" r="10.8"/><circle cx="3025" cy="1204.8" r="11"/><circle cx="3025.7" cy="1637.7" r="11"/></g><text x="1936.5" y="1170" font-size="48" textLength="66.5" lengthAdjust="spacingAndGlyphs" >(d)</text><text x="2082.4" y="1170" font-size="48" textLength="114.8" lengthAdjust="spacingAndGlyphs" fill="#0B4F80" >Cut2</text><text x="2518" y="1170" font-size="48" textLength="113.2" lengthAdjust="spacingAndGlyphs" fill="#F5A01E" >Cut1</text><text x="2883.8" y="1925.4" font-size="48" textLength="115.4" lengthAdjust="spacingAndGlyphs" fill="#66D835" >Cut3</text><text x="2329.6" y="1368.2" font-size="48" font-style="italic" textLength="40.4" lengthAdjust="spacingAndGlyphs" >X</text><text x="2602.9" y="1646.7" font-size="48" font-style="italic" textLength="33.7" lengthAdjust="spacingAndGlyphs" >Γ</text><text x="3059" y="1218.4" font-size="48" font-style="italic" textLength="45.4" lengthAdjust="spacingAndGlyphs" >Γ′</text><text x="3060.3" y="1652.6" font-size="48" font-style="italic" textLength="47.5" lengthAdjust="spacingAndGlyphs" >M</text><text x="2415.8" y="1648.4" font-size="48" font-style="italic" textLength="29.4" lengthAdjust="spacingAndGlyphs" >α</text><text x="2244.7" y="1711" font-size="48" font-style="italic" textLength="28.5" lengthAdjust="spacingAndGlyphs" >β</text></g>
</svg>
</body></html>
